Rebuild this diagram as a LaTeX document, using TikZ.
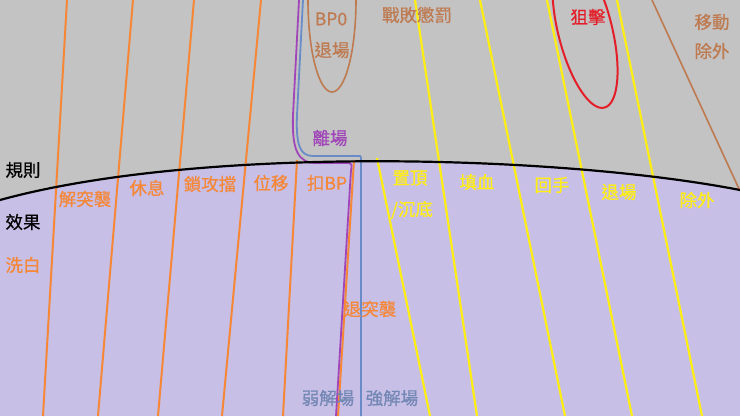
\documentclass[tikz,border=0pt]{standalone}
\usepackage{fontspec}
\setmainfont{Noto Sans CJK TC}[FakeBold=0.6]
\usetikzlibrary{positioning}
\definecolor{bggray}{RGB}{195,195,195}
\definecolor{bglav}{RGB}{200,191,230}
\definecolor{lnorange}{RGB}{245,135,55}
\definecolor{lnyellow}{RGB}{255,238,20}
\definecolor{lnred}{RGB}{228,30,40}
\definecolor{lnbrown}{RGB}{190,122,80}
\definecolor{lnpurple}{RGB}{160,70,185}
\definecolor{lnblue}{RGB}{105,140,200}
\definecolor{txblue}{RGB}{115,135,180}

\begin{document}
\begin{tikzpicture}[x=1pt, y=-1pt,
    lbl/.style={font=\fontsize{17.5}{20}\selectfont, inner sep=0pt},
    orangelbl/.style={lbl, text=lnorange},
    yellowlbl/.style={lbl, text=lnyellow},
    brownlbl/.style={lbl, text=lnbrown},
    orangeline/.style={draw=lnorange, line width=2pt},
    yellowline/.style={draw=lnyellow, line width=2.2pt},
    edgeline/.style={line width=1.8pt, rounded corners=2pt}
]
\useasboundingbox (0,0) rectangle (740,416);
\clip (0,0) rectangle (740,416);

% Background: effects below, rules above the curve
\fill[bglav] (0,0) rectangle (740,416);
\fill[bggray] (0,0) -- (0,200) .. controls (200,145) and (560,155) .. (740,190) -- (740,0) -- cycle;

% Orange lines
\draw[orangeline] (67,0) -- (43,416);
\draw[orangeline] (133,0) -- (98,416);
\draw[orangeline] (194,0) -- (158,416);
\draw[orangeline] (261,0) -- (222,416);
\draw[orangeline] (297,160) -- (283,416);
\draw[orangeline] (354,160) -- (338,416);

% Yellow lines
\draw[yellowline] (377,158) -- (430,416);
\draw[yellowline] (415,0) -- (477,416);
\draw[yellowline] (480,0) -- (565,416);
\draw[yellowline] (547,0) -- (632,416);
\draw[yellowline] (617,0) -- (702,416);

% Leaving the field
\draw[edgeline, lnpurple] (299,0) -- (293,115) .. controls (292,150) and (298,163) .. (318,163) -- (347,163) .. controls (351,163) and (352,165) .. (351,170) -- (336,416);
\draw[edgeline, lnblue] (303,0) -- (297,115) .. controls (296,145) and (300,156) .. (315,156) -- (358,156) .. controls (360,156) and (361,157) .. (361,160) -- (361,416);

% Ellipses and brown line
\draw[lnbrown, line width=1.6pt] (332,0) ellipse [x radius=24, y radius=92];
\draw[lnred, line width=2pt, rotate around={14:(585,30)}] (585,30) ellipse [x radius=27, y radius=80];
\draw[lnbrown, line width=1.6pt] (652,0) -- (740,191);

% Boundary
\draw[black, line width=2.2pt] (0,200) .. controls (200,145) and (560,155) .. (740,190);

% Left labels
\node[lbl, text=black] (rules) at (23,170) {規則};
\node[lbl, text=black] (effects) at (23,222) {效果};
\node[orangelbl] (wash) at (23,265) {洗白};

% Orange labels
\node[orangelbl] (unraid) at (85,199) {解突襲};
\node[orangelbl] (rest) at (147,188) {休息};
\node[orangelbl] (lock) at (210,184) {鎖攻擋};
\node[orangelbl] (move) at (271,183) {位移};
\node[orangelbl] (minusbp) at (327,183) {扣BP};
\node[orangelbl] (retraid) at (370,309) {退突襲};

% Rules labels
\node[lbl, text=lnpurple] (leave) at (330,138) {離場};
\node[brownlbl] (bpzero) at (331,19) {BP0};
\node[brownlbl] (bpexit) at (332,50) {退場};
\node[brownlbl] (penalty) at (417,15) {戰敗懲罰};
\node[brownlbl] (banish1) at (712,22) {移動};
\node[brownlbl] (banish2) at (712,51) {除外};
\node[lbl, text=lnred] (snipe) at (588,17) {狙擊};

% Yellow labels
\node[yellowlbl] (top) at (410,178) {置頂};
\node[yellowlbl] (bottom) at (412,210) {/沉底};
\node[yellowlbl] (heal) at (477,182) {填血};
\node[yellowlbl] (hand) at (552,185) {回手};
\node[yellowlbl] (exit) at (619,192) {退場};
\node[yellowlbl] (remove) at (697,200) {除外};

% Removal labels
\node[lbl, text=txblue] (weak) at (328,398) {弱解場};
\node[lbl, text=txblue] (strong) at (392,398) {強解場};

\end{tikzpicture}
\end{document}
